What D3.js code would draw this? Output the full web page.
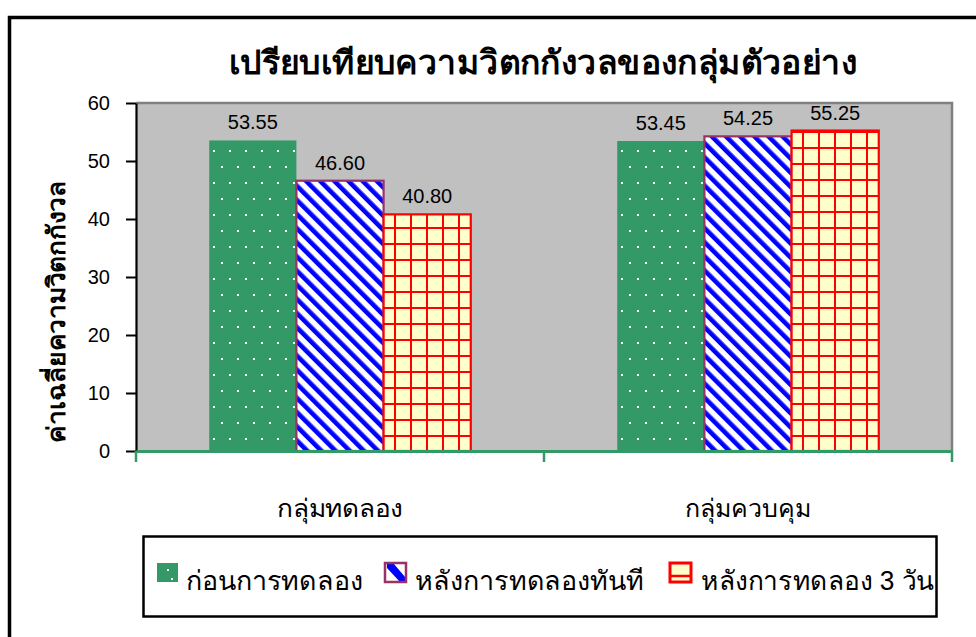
<!DOCTYPE html>
<html><head><meta charset="utf-8">
<script src="https://cdn.jsdelivr.net/npm/d3@7"></script>
<style>
html,body{margin:0;padding:0;background:#fff;}
svg{display:block;}
text{font-family:Arial,"Liberation Sans",Tahoma,sans-serif;fill:#000;}
</style></head>
<body>
<svg id="c" width="976" height="637"></svg>
<script>
// ---- data ----
const title = "เปรียบเทียบความวิตกกังวลของกลุ่มตัวอย่าง";
const yLabel = "ค่าเฉลี่ยความวิตกกังวล";
const categories = ["กลุ่มทดลอง", "กลุ่มควบคุม"];
const seriesNames = ["ก่อนการทดลอง", "หลังการทดลองทันที", "หลังการทดลอง 3 วัน"];
const before = [53.55, 53.45];
const afterNow = [46.60, 54.25];
const after3 = [40.80, 55.25];
const yTicks = [0, 10, 20, 30, 40, 50, 60];

(function(){
const seriesValues = [before, afterNow, after3];
const svg = d3.select("#c");

// ---- patterns ----
const defs = svg.append("defs");
const pDots = defs.append("pattern").attr("id","pDots").attr("patternUnits","userSpaceOnUse")
  .attr("width",16).attr("height",32).attr("x",3).attr("y",2);
pDots.append("rect").attr("width",16).attr("height",32).attr("fill","#339966");
pDots.append("rect").attr("x",2).attr("y",4).attr("width",2).attr("height",2).attr("fill","#fff");
pDots.append("rect").attr("x",10).attr("y",20).attr("width",2).attr("height",2).attr("fill","#fff");

const pStripe = defs.append("pattern").attr("id","pStripe").attr("patternUnits","userSpaceOnUse")
  .attr("width",10).attr("height",10).attr("patternTransform","rotate(-45)");
pStripe.append("rect").attr("width",10).attr("height",10).attr("fill","#fff");
pStripe.append("rect").attr("width",4.6).attr("height",10).attr("fill","#0000ff");

const pGrid = defs.append("pattern").attr("id","pGrid").attr("patternUnits","userSpaceOnUse")
  .attr("width",16).attr("height",16).attr("x",2).attr("y",3);
pGrid.append("rect").attr("width",16).attr("height",16).attr("fill","#ffffcc");
pGrid.append("rect").attr("x",0).attr("y",0).attr("width",2).attr("height",16).attr("fill","#ff0000");
pGrid.append("rect").attr("x",0).attr("y",0).attr("width",16).attr("height",2).attr("fill","#ff0000");

const fills = ["url(#pDots)", "url(#pStripe)", "url(#pGrid)"];
const strokes = ["#339966", "#993366", "#ff0000"];

// ---- outer frame ----
svg.append("rect").attr("x",9.5).attr("y",17.5).attr("width",1000).attr("height",700)
  .attr("fill","none").attr("stroke","#000").attr("stroke-width",3.5);

// ---- scales ----
const pL = 136, pR = 952, pT = 103, pB = 451;
const y = d3.scaleLinear().domain([0, 60]).range([pB, pT]);
const x0 = d3.scaleBand().domain(categories).range([pL, pR]).padding(0);
const x1 = d3.scaleBand().domain(d3.range(seriesNames.length))
  .range([0, x0.bandwidth()]).paddingInner(0).paddingOuter(0.84);

// ---- plot area ----
svg.append("rect").attr("x",pL).attr("y",pT).attr("width",pR-pL).attr("height",pB-pT)
  .attr("fill","#c0c0c0");
svg.append("path").attr("d",`M${pL},${pT}H${pR}V${pB}`).attr("fill","none")
  .attr("stroke","#808080").attr("stroke-width",2.5);

// ---- bars ----
const groups = svg.append("g").selectAll("g").data(categories).join("g")
  .attr("transform", d => `translate(${x0(d)},0)`);
groups.each(function(cat, ci){
  const g = d3.select(this);
  seriesValues.forEach((vals, si) => {
    const v = vals[ci];
    const bx = x1(si), bw = x1.bandwidth();
    g.append("rect").attr("x", bx).attr("y", y(v)).attr("width", bw).attr("height", y(0) - y(v))
      .attr("fill", fills[si]).attr("stroke", strokes[si]).attr("stroke-width", si === 0 ? 0 : 2.2);
    g.append("text").attr("x", bx + bw/2).attr("y", y(v) - 11).attr("text-anchor","middle")
      .attr("font-size", 20).text(v.toFixed(2));
  });
});

// ---- y axis ----
const yAxis = svg.append("g").attr("transform",`translate(${pL},0)`)
  .call(d3.axisLeft(y).tickValues(yTicks).tickSize(10).tickPadding(16).tickSizeOuter(0));
yAxis.select(".domain").attr("stroke","#000").attr("stroke-width",2.2);
yAxis.selectAll(".tick line").attr("stroke","#000").attr("stroke-width",2);
yAxis.selectAll(".tick text").attr("font-size",20).attr("font-family","Arial,'Liberation Sans',sans-serif").attr("fill","#000");

// ---- x axis ----
const xAxis = svg.append("g").attr("transform",`translate(0,${pB})`)
  .call(d3.axisBottom(x0).tickSize(0).tickPadding(0).tickFormat(""));
xAxis.select(".domain").attr("stroke","#339966").attr("stroke-width",3);
const xTickPos = [pL].concat(categories.map(c => x0(c) + x0.bandwidth()));
xAxis.selectAll(".sep").data(xTickPos).join("line").attr("class","sep")
  .attr("x1", d => d).attr("x2", d => d).attr("y1", 0).attr("y2", 11)
  .attr("stroke","#339966").attr("stroke-width",2.5);
svg.append("g").selectAll("text").data(categories).join("text")
  .attr("x", d => x0(d) + x0.bandwidth()/2).attr("y", 517).attr("text-anchor","middle")
  .attr("font-size", 25).attr("textLength", 126).attr("lengthAdjust","spacingAndGlyphs").text(d => d);

// ---- title & y label ----
svg.append("text").attr("x", 543).attr("y", 74).attr("text-anchor","middle")
  .attr("font-size", 33).attr("font-weight","bold")
  .attr("textLength", 628).attr("lengthAdjust","spacingAndGlyphs").text(title);
svg.append("text").attr("transform","translate(65,312) rotate(-90)").attr("text-anchor","middle")
  .attr("font-size", 25).attr("font-weight","bold")
  .attr("textLength", 262).attr("lengthAdjust","spacingAndGlyphs").text(yLabel);

// ---- legend ----
svg.append("rect").attr("x",143.5).attr("y",536.5).attr("width",793).attr("height",80)
  .attr("fill","#fff").attr("stroke","#000").attr("stroke-width",2.5);
const legendSw = [157, 385, 670];
const legendTx = [186, 415, 701];
const legendTw = [177, 229, 233];
const lg = svg.append("g").selectAll("g").data(seriesNames).join("g");
// swatches
const s0 = svg.append("g").attr("transform",`translate(${legendSw[0]},563)`);
s0.append("rect").attr("width",21).attr("height",19).attr("fill","#339966");
s0.append("rect").attr("x",10).attr("y",6).attr("width",2).attr("height",2).attr("fill","#fff");
s0.append("rect").attr("x",14).attr("y",15).attr("width",2).attr("height",2).attr("fill","#fff");
const s1 = svg.append("g").attr("transform",`translate(${legendSw[1]},563)`);
s1.append("rect").attr("width",21).attr("height",19).attr("fill","#fff");
s1.append("path").attr("d","M2,1 L9,1 L20,14 L20,19 L15,19 L2,5 Z").attr("fill","#0000ff");
s1.append("rect").attr("width",21).attr("height",19).attr("fill","none").attr("stroke","#993366").attr("stroke-width",2.5);
const s2 = svg.append("g").attr("transform",`translate(${legendSw[2]},563)`);
s2.append("rect").attr("width",21).attr("height",19).attr("fill","#ffffcc").attr("stroke","#ff0000").attr("stroke-width",3);
s2.append("line").attr("x1",0).attr("x2",21).attr("y1",13).attr("y2",13).attr("stroke","#ff0000").attr("stroke-width",2.5);
lg.append("text").attr("x",(d,i)=>legendTx[i]).attr("y",590).attr("font-size",27)
  .attr("textLength",(d,i)=>legendTw[i]).attr("lengthAdjust","spacingAndGlyphs").text(d => d);
})();
</script>
</body></html>
